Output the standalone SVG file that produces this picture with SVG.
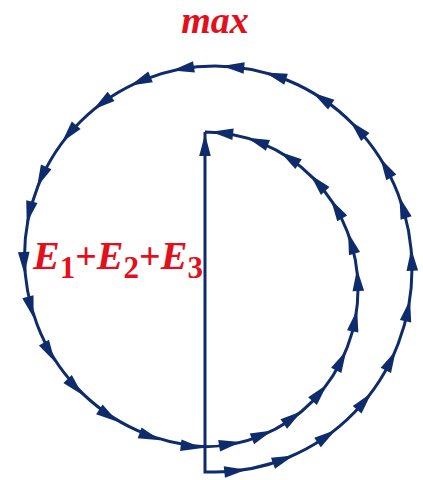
<svg xmlns="http://www.w3.org/2000/svg" xmlns:xlink="http://www.w3.org/1999/xlink" width="423" height="480" viewBox="0 0 423 480">
<style>
.ln{fill:none;stroke:#0e2b6c;stroke-width:3;stroke-linejoin:miter}
.ah{fill:#0e2b6c}
.lbl{font-family:"Liberation Serif","Times New Roman",serif;font-weight:bold;font-style:italic;fill:#e3101c}
.up{font-style:normal}
</style>
<defs>
<polygon id="ah" points="11,0 -11,-5.8 -11,5.8"/>
</defs>
<rect width="423" height="480" fill="#ffffff"/>
<g id="connectors">
<path class="ln" d="M205,132 L205,472 L215,472 A197,203 0 0 0 412,269 A197,203 0 0 0 215,66 A190.5,190.5 0 0 0 24.5,256.5 A190.5,190.5 0 0 0 205,446.74 A153,157.37 0 0 0 358,289.37 A153,157.37 0 0 0 205,132"/>
<g class="ah">
<use xlink:href="#ah" href="#ah" transform="translate(205,145) rotate(-90)"/>
<use xlink:href="#ah" href="#ah" transform="translate(235.3,470.9) rotate(-5.9)"/>
<use xlink:href="#ah" href="#ah" transform="translate(283.3,459.4) rotate(-20.3)"/>
<use xlink:href="#ah" href="#ah" transform="translate(326.6,436.3) rotate(-34.5)"/>
<use xlink:href="#ah" href="#ah" transform="translate(364.3,401.4) rotate(-49.3)"/>
<use xlink:href="#ah" href="#ah" transform="translate(390.8,360.5) rotate(-63.2)"/>
<use xlink:href="#ah" href="#ah" transform="translate(407.8,310.5) rotate(-78.2)"/>
<use xlink:href="#ah" href="#ah" transform="translate(411.8,259.8) rotate(-92.6)"/>
<use xlink:href="#ah" href="#ah" transform="translate(402.8,207.6) rotate(-107.6)"/>
<use xlink:href="#ah" href="#ah" transform="translate(385.8,167.8) rotate(-119.9)"/>
<use xlink:href="#ah" href="#ah" transform="translate(357.7,129) rotate(-133.6)"/>
<use xlink:href="#ah" href="#ah" transform="translate(322,98.6) rotate(-147.1)"/>
<use xlink:href="#ah" href="#ah" transform="translate(275.6,75.8) rotate(-162.1)"/>
<use xlink:href="#ah" href="#ah" transform="translate(233.2,66.9) rotate(-174.7)"/>
<use xlink:href="#ah" href="#ah" transform="translate(183.1,68.7) rotate(170.4)"/>
<use xlink:href="#ah" href="#ah" transform="translate(140.4,81.2) rotate(157)"/>
<use xlink:href="#ah" href="#ah" transform="translate(102.2,102.9) rotate(143.8)"/>
<use xlink:href="#ah" href="#ah" transform="translate(69.1,133.7) rotate(130.2)"/>
<use xlink:href="#ah" href="#ah" transform="translate(41.6,176.9) rotate(114.8)"/>
<use xlink:href="#ah" href="#ah" transform="translate(29.3,212.4) rotate(103.5)"/>
<use xlink:href="#ah" href="#ah" transform="translate(24.1,263) rotate(88.2)"/>
<use xlink:href="#ah" href="#ah" transform="translate(30.8,307.4) rotate(74.7)"/>
<use xlink:href="#ah" href="#ah" transform="translate(49.4,352.2) rotate(60.1)"/>
<use xlink:href="#ah" href="#ah" transform="translate(75.1,387) rotate(47.1)"/>
<use xlink:href="#ah" href="#ah" transform="translate(108.5,415.5) rotate(33.9)"/>
<use xlink:href="#ah" href="#ah" transform="translate(150,436.6) rotate(19.9)"/>
<use xlink:href="#ah" href="#ah" transform="translate(191.7,446.6) rotate(7)"/>
<use xlink:href="#ah" href="#ah" transform="translate(230,443.9) rotate(-9.4)"/>
<use xlink:href="#ah" href="#ah" transform="translate(262.1,434.7) rotate(-21.9)"/>
<use xlink:href="#ah" href="#ah" transform="translate(292.8,417.6) rotate(-35)"/>
<use xlink:href="#ah" href="#ah" transform="translate(319.8,392.8) rotate(-48.6)"/>
<use xlink:href="#ah" href="#ah" transform="translate(341.2,360.5) rotate(-62.9)"/>
<use xlink:href="#ah" href="#ah" transform="translate(354.9,320.6) rotate(-78.4)"/>
<use xlink:href="#ah" href="#ah" transform="translate(357.7,280) rotate(-93.3)"/>
<use xlink:href="#ah" href="#ah" transform="translate(351.3,243.1) rotate(-107)"/>
<use xlink:href="#ah" href="#ah" transform="translate(336.6,208.9) rotate(-120.7)"/>
<use xlink:href="#ah" href="#ah" transform="translate(317.8,182.9) rotate(-132.5)"/>
<use xlink:href="#ah" href="#ah" transform="translate(289.4,158.1) rotate(-146.5)"/>
<use xlink:href="#ah" href="#ah" transform="translate(257.6,141.6) rotate(-159.9)"/>
<use xlink:href="#ah" href="#ah" transform="translate(222.1,133) rotate(-173.6)"/>
</g>
</g>
<g id="label-max">
<text class="lbl" x="215" y="33" font-size="38" text-anchor="middle">max</text>
</g>
<g id="label-sum">
<text class="lbl" x="33" y="269" font-size="40">E<tspan class="up" dy="9" font-size="31">1</tspan><tspan class="up" dy="-9" font-size="38">+</tspan>E<tspan class="up" dy="9" font-size="31">2</tspan><tspan class="up" dy="-9" font-size="38">+</tspan>E<tspan class="up" dy="9" font-size="31">3</tspan></text>
</g>
</svg>
